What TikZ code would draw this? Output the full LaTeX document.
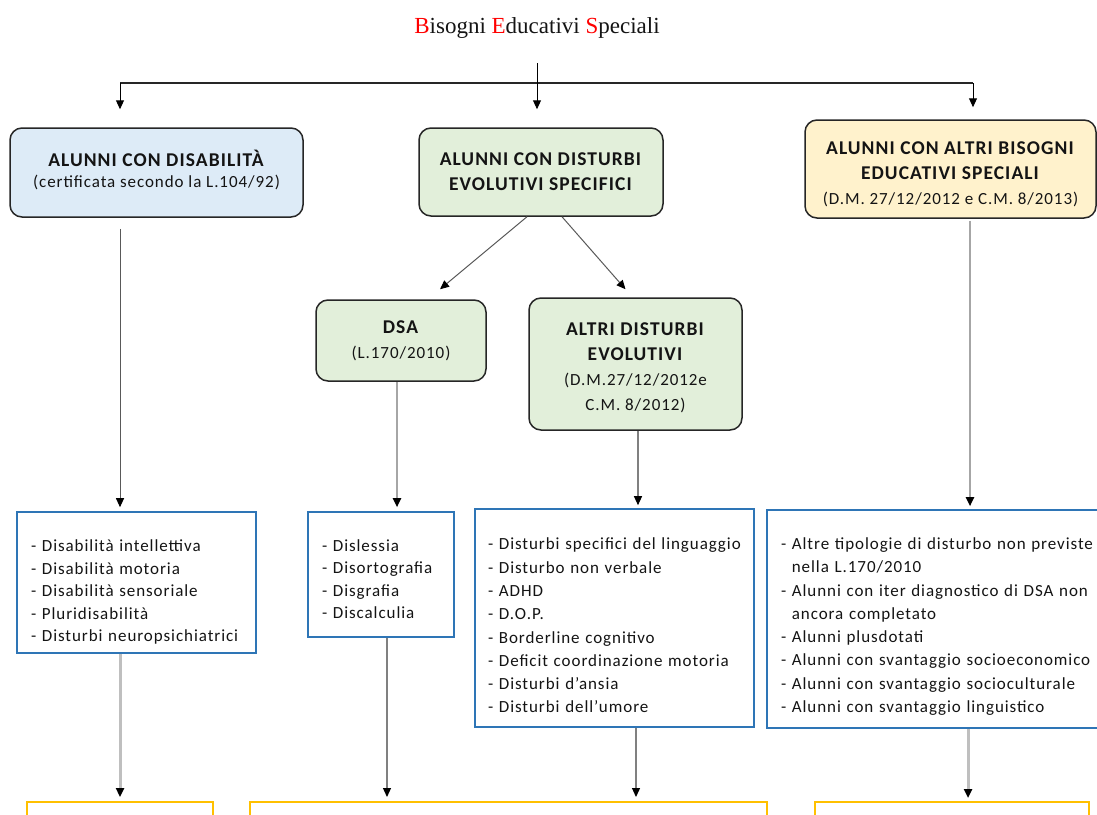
\documentclass[tikz,border=0pt]{standalone}
\usepackage{fontspec}
\setmainfont{Carlito}
\newfontfamily\titlefont{Liberation Serif}
\newfontfamily\calfam[LetterSpace=5.5]{Carlito}
\usetikzlibrary{arrows.meta}
\definecolor{blueF}{HTML}{DDEBF7}
\definecolor{greenF}{HTML}{E2EFDA}
\definecolor{yellowF}{HTML}{FFF2CC}
\definecolor{listblue}{HTML}{2E75B6}
\definecolor{gold}{HTML}{FFC000}
\definecolor{txt}{HTML}{141414}
\tikzset{
  hdr/.style={draw=black!85, line width=1.5pt, rounded corners=12pt, align=center,
    font=\calfam\fontsize{19.5}{25}\selectfont, text=txt, inner sep=0pt},
  lst/.style={draw=listblue, line width=1.6pt, align=left, text=txt, inner ysep=0pt},
  lstA/.style={lst, font=\calfam\fontsize{17}{22.5}\selectfont},
  lstB/.style={lst, font=\calfam\fontsize{17}{23.3}\selectfont},
  bottombox/.style={draw=gold, line width=2pt, inner sep=0pt},
  tip/.style={-{Triangle[length=9pt,width=8pt,color=black]}},
  conn/.style={tip, draw=black, line width=1pt},
  darkconn/.style={tip, draw=black!65, line width=1pt},
  midconn/.style={tip, draw=black!50, line width=1.2pt},
  grayconn/.style={tip, draw=black!35, line width=2pt},
  lightconn/.style={tip, draw=black!25, line width=3pt},
  barline/.style={draw=black!85, line width=2.5pt}
}
\newcommand{\subl}[1]{{\fontsize{17}{22}\selectfont #1}}
\newcommand{\lift}[1]{\rule{0pt}{#1pt}}
\begin{document}
\begin{tikzpicture}[x=1pt,y=-1pt]
\useasboundingbox (0,0) rectangle (1097,814);
\clip (0,0) rectangle (1097,814);
\fill[white] (0,0) rectangle (1097,814);

% title
\node[font=\titlefont\fontsize{23}{26}\selectfont, text=txt, inner sep=0pt] (title) at (537,28)
  {\textcolor{red}{B}isogni \textcolor{red}{E}ducativi \textcolor{red}{S}peciali};

% level 1 boxes
\node[hdr, fill=blueF, minimum width=293pt, minimum height=89pt] (b1) at (156.5,172.5)
  {\textbf{ALUNNI CON DISABILITÀ}\\[-4pt]\subl{(certificata secondo la L.104/92)}\\[-18pt]};
\node[hdr, fill=greenF, minimum width=244pt, minimum height=88pt] (b2) at (541,172)
  {\textbf{ALUNNI CON DISTURBI}\\\textbf{EVOLUTIVI SPECIFICI}};
\node[hdr, fill=yellowF, minimum width=291pt, minimum height=98pt] (b3) at (950.5,169)
  {\lift{23}\textbf{ALUNNI CON ALTRI BISOGNI}\\\textbf{EDUCATIVI SPECIALI}\\\subl{(D.M. 27/12/2012 e C.M. 8/2013)}};

% level 2 boxes
\node[hdr, fill=greenF, minimum width=170pt, minimum height=81pt] (dsa) at (401,340.5)
  {\textbf{DSA}\\\subl{(L.170/2010)}};
\node[hdr, fill=greenF, minimum width=213pt, minimum height=132pt] (altri) at (635.5,364)
  {\lift{20}\textbf{ALTRI DISTURBI}\\\textbf{EVOLUTIVI}\\\subl{(D.M.27/12/2012e}\\\subl{C.M. 8/2012)}};

% list boxes
\node[lstA, minimum width=239pt, minimum height=141pt, text width=211pt, inner xsep=14pt] (l1) at (136.5,582.5)
  {\lift{31}- Disabilità intellettiva\\- Disabilità motoria\\- Disabilità sensoriale\\- Pluridisabilità\\- Disturbi neuropsichiatrici};
\node[lstA, minimum width=146pt, minimum height=125pt, text width=118pt, inner xsep=14pt] (l2) at (381,574.5)
  {\lift{21}- Dislessia\\- Disortografia\\- Disgrafia\\- Discalculia};
\node[lstB, minimum width=279pt, minimum height=218pt, text width=253pt, inner xsep=13pt] (l3) at (614.5,618)
  {\lift{27}- Disturbi specifici del linguaggio\\- Disturbo non verbale\\- ADHD\\- D.O.P.\\- Borderline cognitivo\\- Deficit coordinazione motoria\\- Disturbi d’ansia\\- Disturbi dell’umore};
\node[lstB, minimum width=340pt, minimum height=218pt, text width=312pt, inner xsep=14pt] (l4) at (937,619)
  {\lift{27}- Altre tipologie di disturbo non previste\\\phantom{- }nella L.170/2010\\- Alunni con iter diagnostico di DSA non\\\phantom{- }ancora completato\\- Alunni plusdotati\\- Alunni con svantaggio socioeconomico\\- Alunni con svantaggio socioculturale\\- Alunni con svantaggio linguistico};

% bottom boxes (cut by the page edge)
\node[bottombox, minimum width=186pt, minimum height=60pt] (bb1) at (120,832) {};
\node[bottombox, minimum width=517pt, minimum height=60pt] (bb2) at (508.5,832) {};
\node[bottombox, minimum width=274pt, minimum height=60pt] (bb3) at (952,832) {};

% helper x positions
\coordinate (x1) at (120,0);
\coordinate (xt) at (537,63);
\coordinate (barL) at (120,83);
\coordinate (barR) at (973,83);
\coordinate (xd) at (397,0);
\coordinate (xa) at (638,0);
\coordinate (xb3) at (970,0);
\coordinate (xl2) at (387,0);
\coordinate (xl3) at (636,0);
\coordinate (xl4) at (968,0);

% connectors
\draw[barline] (barL) -- (barR);
\draw[conn, shorten >=18pt] (xt) -- (xt |- b2.north);
\draw[conn, shorten >=18pt] (barL) -- (barL |- b1.north);
\draw[conn, shorten >=12pt] (barR) -- (barR |- b3.north);

\draw[darkconn, shorten <=11pt, shorten >=4pt] (b1.south -| x1) -- (l1.north -| x1);
\draw[darkconn] ([xshift=-14pt]b2.south) -- ([xshift=39pt,yshift=10pt]dsa.north);
\draw[darkconn] ([xshift=21pt]b2.south) -- ([xshift=-10pt,yshift=8pt]altri.north);
\draw[grayconn, shorten >=4pt] (dsa.south -| xd) -- (l2.north -| xd);
\draw[midconn, shorten >=3pt] (altri.south -| xa) -- (l3.north -| xa);
\draw[grayconn, shorten <=2pt, shorten >=3pt] (b3.south -| xb3) -- (l4.north -| xb3);

\draw[lightconn, shorten >=4pt] (l1.south -| x1) -- (bb1.north -| x1);
\draw[midconn, shorten >=4pt] (l2.south -| xl2) -- (bb2.north -| xl2);
\draw[midconn, shorten >=4pt] (l3.south -| xl3) -- (bb2.north -| xl3);
\draw[lightconn, shorten >=3pt] (l4.south -| xl4) -- (bb3.north -| xl4);
\end{tikzpicture}
\end{document}
